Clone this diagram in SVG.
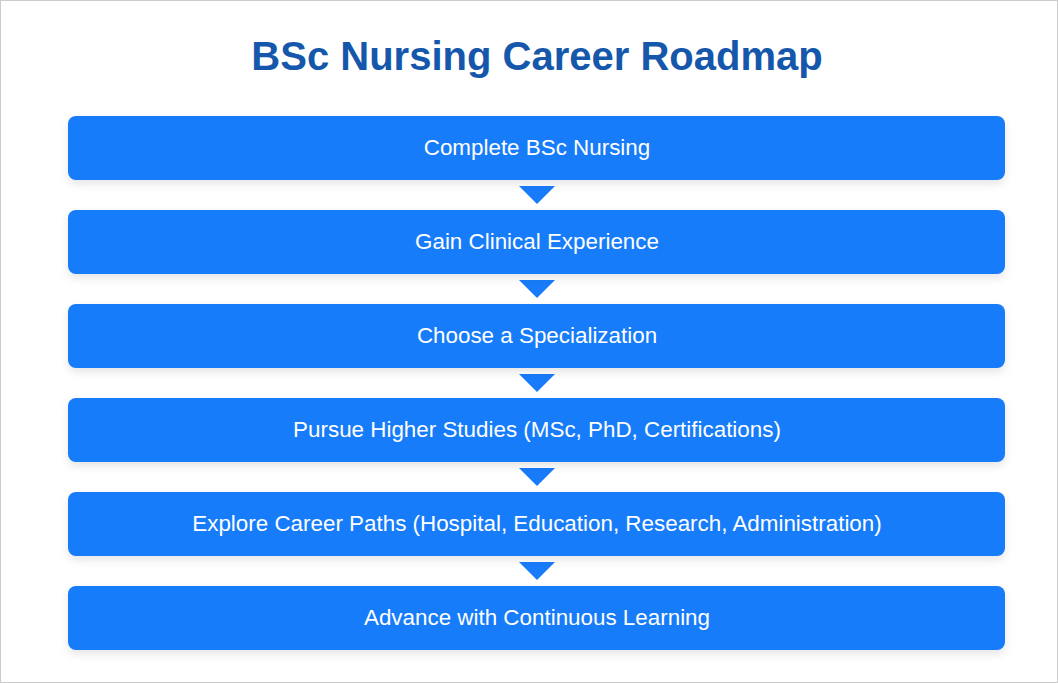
<svg xmlns="http://www.w3.org/2000/svg" width="1058" height="683" viewBox="0 0 1058 683">
<style>
.box{fill:#187bfa;filter:url(#sh)}
.lbl{font-family:"Liberation Sans",Arial,sans-serif;font-size:22.4px;fill:#ffffff;text-anchor:middle}
.title{font-family:"Liberation Sans",Arial,sans-serif;font-size:40px;font-weight:bold;fill:#1557ab;text-anchor:middle}
.arr{fill:#187bfa}
</style>
<defs>
<filter id="sh" x="-5%" y="-30%" width="110%" height="170%">
<feDropShadow dx="0" dy="4" stdDeviation="4" flood-color="#000" flood-opacity="0.1"/>
</filter>
</defs>
<rect x="0" y="0" width="1058" height="683" fill="#ffffff"/>
<rect x="0.5" y="0.5" width="1057" height="682" fill="none" stroke="#cccccc" stroke-width="1"/>
<text class="title" x="537" y="70">BSc Nursing Career Roadmap</text>
<g id="connectors">
<polygon class="arr" points="519,186 555,186 537,204"/>
<polygon class="arr" points="519,280 555,280 537,298"/>
<polygon class="arr" points="519,374 555,374 537,392"/>
<polygon class="arr" points="519,468 555,468 537,486"/>
<polygon class="arr" points="519,562 555,562 537,580"/>
</g>
<g id="n1"><rect class="box" x="68" y="116" width="937" height="64" rx="8"/><text class="lbl" x="537" y="154.5">Complete BSc Nursing</text></g>
<g id="n2"><rect class="box" x="68" y="210" width="937" height="64" rx="8"/><text class="lbl" x="537" y="248.5">Gain Clinical Experience</text></g>
<g id="n3"><rect class="box" x="68" y="304" width="937" height="64" rx="8"/><text class="lbl" x="537" y="342.5">Choose a Specialization</text></g>
<g id="n4"><rect class="box" x="68" y="398" width="937" height="64" rx="8"/><text class="lbl" x="537" y="436.5">Pursue Higher Studies (MSc, PhD, Certifications)</text></g>
<g id="n5"><rect class="box" x="68" y="492" width="937" height="64" rx="8"/><text class="lbl" x="537" y="530.5">Explore Career Paths (Hospital, Education, Research, Administration)</text></g>
<g id="n6"><rect class="box" x="68" y="586" width="937" height="64" rx="8"/><text class="lbl" x="537" y="624.5">Advance with Continuous Learning</text></g>
</svg>
